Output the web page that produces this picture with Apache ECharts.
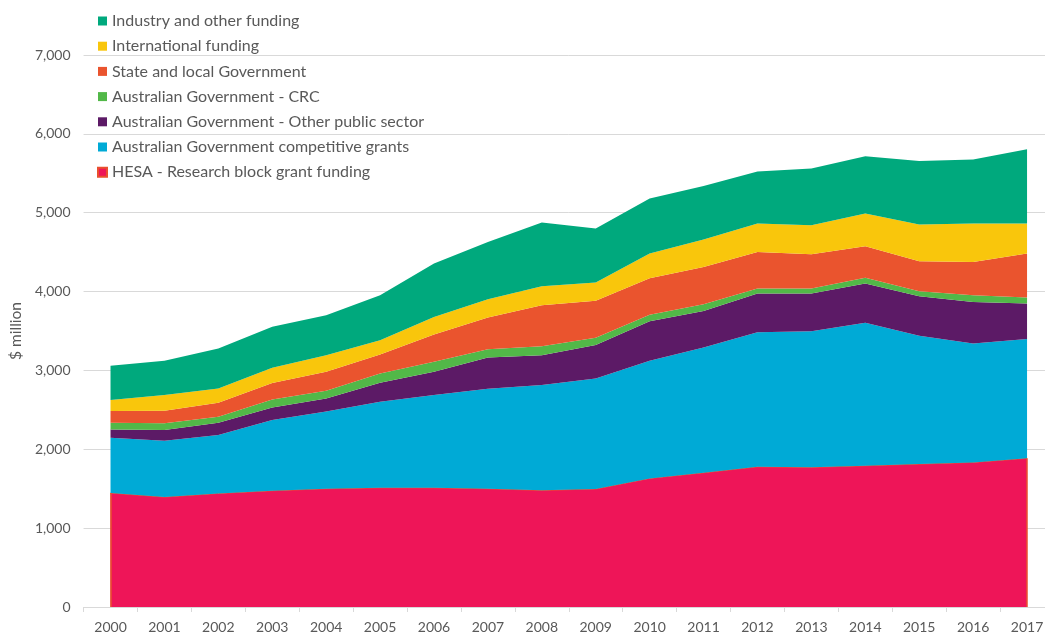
<!DOCTYPE html>
<html>
<head>
<meta charset="utf-8">
<script src="https://cdn.jsdelivr.net/npm/echarts@6/dist/echarts.min.js"></script>
<style>
  html, body { margin: 0; padding: 0; background: #fff; overflow: hidden; }
  #chart { width: 1054px; height: 634px; }
</style>
</head>
<body>
<div id="chart"></div>
<script>
// Years on the category axis
const years = ['2000','2001','2002','2003','2004','2005','2006','2007','2008',
               '2009','2010','2011','2012','2013','2014','2015','2016','2017'];

// Research income by source, $ million (stacked bottom to top)
const hesaBlockGrant   = [1445,1394,1440,1474,1499,1512,1512,1499,1479,1496,1631,1702,1778,1771,1791,1812,1834,1885];
const competitiveGrant = [ 701, 714, 740, 896, 981,1090,1175,1268,1335,1403,1491,1589,1707,1727,1813,1627,1508,1512];
const otherPublic      = [ 106, 135, 156, 161, 165, 241, 295, 398, 380, 422, 503, 464, 491, 478, 499, 503, 527, 452];
const crc              = [  84,  88,  76, 101,  96, 119, 127, 105, 114,  92,  80,  85,  63,  63,  71,  63,  85,  76];
const stateLocal       = [ 148, 157, 179, 207, 241, 241, 347, 402, 520, 470, 465, 473, 464, 435, 401, 380, 422, 558];
const international    = [ 140, 199, 181, 194, 212, 181, 223, 232, 240, 232, 313, 347, 360, 368, 415, 466, 487, 380];
const industryOther    = [ 434, 435, 507, 520, 507, 570, 677, 726, 808, 685, 697, 680, 661, 718, 726, 806, 811, 942];

// Value axis ticks
const yTicks = [0, 1000, 2000, 3000, 4000, 5000, 6000, 7000];

const textColor = '#595959';
const fontFamily = 'Lato, "Open Sans", sans-serif';

const seriesDefs = [
  { name: 'HESA - Research block grant funding',      data: hesaBlockGrant,   color: '#EE1558', line: '#E9502E' },
  { name: 'Australian Government competitive grants', data: competitiveGrant, color: '#00AAD6' },
  { name: 'Australian Government - Other public sector', data: otherPublic,   color: '#5C1A66' },
  { name: 'Australian Government - CRC',              data: crc,              color: '#52B848' },
  { name: 'State and local Government',               data: stateLocal,       color: '#EA542E' },
  { name: 'International funding',                    data: international,    color: '#F9C60C' },
  { name: 'Industry and other funding',               data: industryOther,    color: '#00A97D' }
];

const series = seriesDefs.map(function (d, i) {
  const s = {
    name: d.name,
    type: 'line',
    stack: 'total',
    data: d.data,
    symbol: 'none',
    smooth: false,
    z: 2 + i,
    lineStyle: { width: d.line ? 1 : 0, color: d.line || d.color },
    areaStyle: { color: d.color, opacity: 1 },
    itemStyle: { color: d.color, borderColor: d.line || d.color, borderWidth: d.line ? 1.5 : 0 },
    emphasis: { disabled: true }
  };
  if (d.line) {
    // Outline the vertical edges of the bottom band
    const last = years.length - 1;
    s.markLine = {
      silent: true,
      symbol: 'none',
      label: { show: false },
      lineStyle: { color: d.line, width: 1.5, type: 'solid' },
      data: [
        [{ coord: [years[0], 0] }, { coord: [years[0], d.data[0]] }],
        [{ coord: [years[last], 0] }, { coord: [years[last], d.data[last]] }]
      ]
    };
  }
  return s;
});

const chart = echarts.init(document.getElementById('chart'), null, { renderer: 'canvas' });
chart.setOption({
  animation: false,
  backgroundColor: '#ffffff',
  textStyle: { fontFamily: fontFamily },
  grid: { left: 83, right: 0, top: 55, bottom: 27, containLabel: false },
  legend: {
    orient: 'vertical',
    left: 92,
    top: 8,
    itemGap: 9.2,
    itemWidth: 9,
    itemHeight: 9,
    icon: 'rect',
    data: seriesDefs.slice().reverse().map(function (d) { return d.name; }),
    textStyle: { color: textColor, fontSize: 16, lineHeight: 16, fontFamily: fontFamily },
    selectedMode: false
  },
  xAxis: {
    type: 'category',
    data: years,
    boundaryGap: true,
    axisLine: { lineStyle: { color: '#D9D9D9', width: 1 } },
    axisTick: { show: true, length: 5, lineStyle: { color: '#D9D9D9' } },
    axisLabel: { color: textColor, fontSize: 14, fontFamily: fontFamily, margin: 13 },
    splitLine: { show: false }
  },
  yAxis: {
    type: 'value',
    min: yTicks[0],
    max: yTicks[yTicks.length - 1],
    interval: yTicks[1] - yTicks[0],
    name: '$ million',
    nameLocation: 'middle',
    nameGap: 57,
    nameTextStyle: { color: textColor, fontSize: 15.5, fontFamily: fontFamily },
    axisLine: { show: false },
    axisTick: { show: false },
    axisLabel: {
      color: textColor, fontSize: 14, fontFamily: fontFamily, margin: 13,
      formatter: function (v) { return v.toLocaleString('en-US'); }
    },
    splitLine: { lineStyle: { color: '#D9D9D9', width: 1 } }
  },
  series: series
});
</script>
</body>
</html>
